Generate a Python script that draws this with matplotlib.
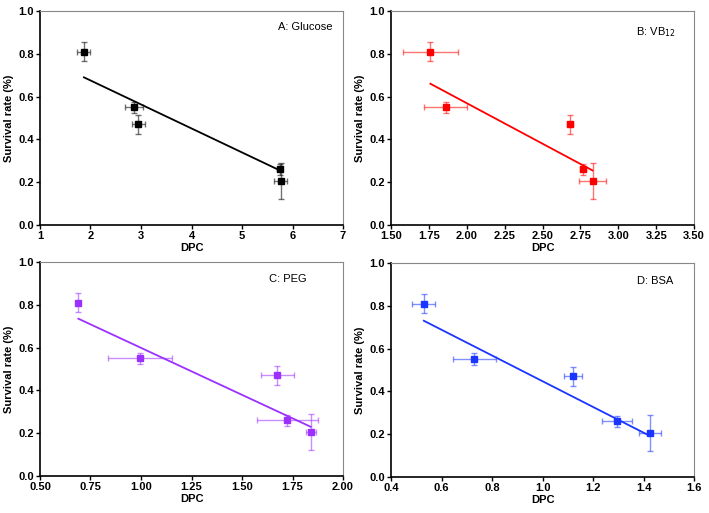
import numpy as np
import matplotlib.pyplot as plt

plt.rcParams['font.family'] = ['Liberation Sans', 'DejaVu Sans']

# --- DATA ---
surv = [0.81, 0.55, 0.47, 0.26, 0.205]
surv_err = [0.043, 0.027, 0.043, 0.025, 0.085]

glc_x = [1.87, 2.86, 2.95, 5.75, 5.77]
glc_xerr = [0.13, 0.17, 0.13, 0.05, 0.13]
glc_fit = ([1.87, 5.75], [0.69, 0.255])

vb_x = [1.76, 1.86, 2.68, 2.77, 2.83]
vb_xerr = [0.18, 0.14, 0.02, 0.02, 0.09]
vb_fit = ([1.76, 2.83], [0.66, 0.255])

peg_x = [0.69, 0.995, 1.675, 1.725, 1.84]
peg_xerr = [0.01, 0.16, 0.08, 0.15, 0.025]
peg_fit = ([0.69, 1.84], [0.735, 0.23])

bsa_x = [0.53, 0.73, 1.12, 1.295, 1.425]
bsa_xerr = [0.045, 0.085, 0.036, 0.06, 0.043]
bsa_fit = ([0.53, 1.42], [0.73, 0.195])

panels = [
    # x, xerr, fit, colour, label, label pos, xlim, xticks, fmt, axes pos
    (glc_x, glc_xerr, glc_fit, 'black', 'A: Glucose', (0.964, 0.925), (1, 7),
     [1, 2, 3, 4, 5, 6, 7], '{:g}', [0.0564, 0.5614]),
    (vb_x, vb_xerr, vb_fit, '#ff0000', 'B: VB$_{12}$', (0.94, 0.90), (1.5, 3.5),
     np.arange(1.5, 3.51, 0.25), '{:.2f}', [0.5515, 0.5614]),
    (peg_x, peg_xerr, peg_fit, '#9b30ff', 'C: PEG', (0.88, 0.92), (0.5, 2.0),
     np.arange(0.5, 2.01, 0.25), '{:.2f}', [0.0564, 0.0721]),
    (bsa_x, bsa_xerr, bsa_fit, '#1a35ff', 'D: BSA', (0.93, 0.916), (0.4, 1.6),
     np.arange(0.4, 1.61, 0.2), '{:.1f}', [0.5515, 0.0702]),
]

fig = plt.figure(figsize=(7.09, 5.13), dpi=100)

for x, xerr, fit, col, lab, lpos, xlim, xt, fmt, pos in panels:
    ax = fig.add_axes([pos[0], pos[1], 0.4274, 0.4172])
    ax.errorbar(x, surv, xerr=xerr, yerr=surv_err, fmt='none', ecolor=col,
                alpha=0.55, elinewidth=1.0, capsize=2, capthick=1.0)
    ax.plot(x, surv, 's', color=col, ms=4.5)
    ax.plot(fit[0], fit[1], '-', color=col, lw=1.3)

    ax.set_xlim(*xlim)
    ax.set_ylim(0, 1.0)
    ax.set_xticks(xt)
    ax.set_xticklabels([fmt.format(v) for v in xt])
    ax.set_yticks([0, 0.2, 0.4, 0.6, 0.8, 1.0])
    ax.set_yticklabels(['0.0', '0.2', '0.4', '0.6', '0.8', '1.0'])
    ax.tick_params(direction='out', length=3, width=1, labelsize=8, pad=1.5)
    for t in ax.get_xticklabels() + ax.get_yticklabels():
        t.set_fontweight('bold')
    ax.set_xlabel('DPC', fontsize=8, fontweight='bold', labelpad=1)
    ax.set_ylabel('Survival rate (%)', fontsize=8, fontweight='bold', labelpad=3)

    ax.spines['left'].set_linewidth(1.2)
    ax.spines['bottom'].set_linewidth(1.2)
    for s in ['top', 'right']:
        ax.spines[s].set_color('#888888')
        ax.spines[s].set_linewidth(0.8)

    ax.text(lpos[0], lpos[1], lab, transform=ax.transAxes, ha='right',
            va='center', fontsize=8)

fig.savefig('out.png', dpi=100)
